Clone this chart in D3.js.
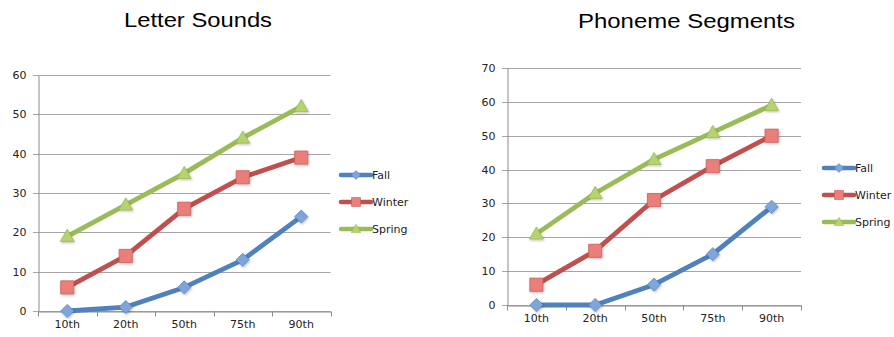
<!DOCTYPE html>
<html>
<head>
<meta charset="utf-8">
<script src="https://cdn.jsdelivr.net/npm/d3@7"></script>
<style>
  html, body { margin: 0; padding: 0; background: #fff; }
  svg { display: block; }
</style>
</head>
<body>
<svg id="chart" width="894" height="337"></svg>
<script>
// Percentile categories shared by both panels
const categories = ["10th", "20th", "50th", "75th", "90th"];
const seriesNames = ["Fall", "Winter", "Spring"];

// Letter Sounds scores by season
const letterFall   = [0, 1, 6, 13, 24];
const letterWinter = [6, 14, 26, 34, 39];
const letterSpring = [19, 27, 35, 44, 52];
const letterTicks  = [0, 10, 20, 30, 40, 50, 60];

// Phoneme Segments scores by season
const phonemeFall   = [0, 0, 6, 15, 29];
const phonemeWinter = [6, 16, 31, 41, 50];
const phonemeSpring = [21, 33, 43, 51, 59];
const phonemeTicks  = [0, 10, 20, 30, 40, 50, 60, 70];

const lineColors   = ["#4f81bd", "#c0504d", "#9bbb59"];
const markerFills  = ["#7ea6dc", "#ea7e7a", "#b6d36e"];
const markerEdges  = ["#5a89c4", "#c9605c", "#98b856"];
const markerShapes = ["diamond", "square", "triangle"];

const svg = d3.select("#chart");

// soft shadow under the markers
const defs = svg.append("defs");
const f = defs.append("filter").attr("id", "mshadow")
  .attr("x", "-50%").attr("y", "-50%").attr("width", "200%").attr("height", "200%");
f.append("feDropShadow").attr("dx", 0.8).attr("dy", 1.2)
  .attr("stdDeviation", 0.9).attr("flood-color", "#000").attr("flood-opacity", 0.25);

function markerPath(shape, s) {
  if (shape === "diamond") {
    const h = s * 0.9;
    return `M0,${-h}L${h},0L0,${h}L${-h},0Z`;
  }
  if (shape === "square") {
    const h = s * 0.9;
    return `M${-h},${-h}H${h}V${h}H${-h}Z`;
  }
  // triangle
  const h = s * 0.95;
  return `M0,${-h}L${h * 1.0},${h * 0.75}L${-h * 1.0},${h * 0.75}Z`;
}

function drawPanel(opts) {
  const g = svg.append("g");
  const x = d3.scaleBand().domain(categories).range([opts.x0, opts.x1]);
  const y = d3.scaleLinear().domain([0, opts.ticks[opts.ticks.length - 1]])
    .range([opts.y0, opts.y1]);

  // horizontal gridlines
  g.append("g").selectAll("line").data(opts.ticks).join("line")
    .attr("x1", opts.x0 - 5).attr("x2", opts.x1)
    .attr("y1", d => Math.round(y(d)) + 0.5).attr("y2", d => Math.round(y(d)) + 0.5)
    .attr("stroke", "#a6a6a6").attr("stroke-width", 1);

  // y axis
  const yAxis = d3.axisLeft(y).tickValues(opts.ticks).tickSize(0).tickPadding(12);
  const ya = g.append("g").attr("transform", `translate(${Math.round(opts.x0) + 0.5},0)`).call(yAxis);
  ya.select(".domain").attr("stroke", "#8c8c8c");
  ya.selectAll("text").attr("font-family", "DejaVu Sans, Verdana, sans-serif")
    .attr("font-size", 11).attr("fill", "#222");

  // x axis with ticks on band boundaries
  const xa = g.append("g").attr("transform", `translate(0,${Math.round(opts.y0) + 0.5})`)
    .call(d3.axisBottom(x).tickSize(0).tickPadding(9));
  xa.select(".domain").attr("stroke", "#8c8c8c");
  xa.selectAll("text").attr("font-family", "DejaVu Sans, Verdana, sans-serif")
    .attr("font-size", 11).attr("fill", "#222");
  const bounds = categories.map(c => x(c)).concat([opts.x1]);
  xa.append("g").selectAll("line").data(bounds).join("line")
    .attr("x1", d => Math.round(d) + 0.5).attr("x2", d => Math.round(d) + 0.5)
    .attr("y1", 0).attr("y2", 5).attr("stroke", "#8c8c8c");

  // title, drawn slightly wide
  g.append("text").attr("x", opts.titleX).attr("y", opts.titleY)
    .attr("text-anchor", "middle")
    .attr("font-family", "Liberation Sans, Arial, sans-serif")
    .attr("font-size", 20).attr("fill", "#000")
    .attr("textLength", opts.titleWidth).attr("lengthAdjust", "spacingAndGlyphs")
    .text(opts.title);

  const line = d3.line()
    .x((d, i) => x(categories[i]) + x.bandwidth() / 2)
    .y(d => y(d));

  opts.series.forEach((vals, si) => {
    g.append("path").datum(vals).attr("d", line)
      .attr("fill", "none").attr("stroke", lineColors[si])
      .attr("stroke-width", 4.8).attr("stroke-linejoin", "round");
  });
  opts.series.forEach((vals, si) => {
    g.append("g").selectAll("path").data(vals).join("path")
      .attr("transform", (d, i) => `translate(${x(categories[i]) + x.bandwidth() / 2},${y(d)})`)
      .attr("d", markerPath(markerShapes[si], 7.3))
      .attr("fill", markerFills[si]).attr("stroke", markerEdges[si])
      .attr("stroke-width", 0.8).attr("filter", "url(#mshadow)");
  });

  // legend
  const lg = g.append("g");
  seriesNames.forEach((name, si) => {
    const ly = opts.legendY + si * opts.legendGap;
    lg.append("line").attr("x1", opts.legendX).attr("x2", opts.legendX + 30)
      .attr("y1", ly).attr("y2", ly).attr("stroke", lineColors[si])
      .attr("stroke-width", 4.5).attr("stroke-linecap", "round");
    lg.append("path").attr("transform", `translate(${opts.legendX + 15},${ly})`)
      .attr("d", markerPath(markerShapes[si], 5))
      .attr("fill", markerFills[si]).attr("stroke", markerEdges[si]).attr("stroke-width", 0.6);
    lg.append("text").attr("x", opts.legendX + 31).attr("y", ly)
      .attr("dy", "0.35em")
      .attr("font-family", "DejaVu Sans, Verdana, sans-serif")
      .attr("font-size", 11).attr("fill", "#222").text(name);
  });
}

drawPanel({
  title: "Letter Sounds", titleX: 198, titleY: 27, titleWidth: 148,
  series: [letterFall, letterWinter, letterSpring], ticks: letterTicks,
  x0: 38, x1: 330.5, y0: 311, y1: 75,
  legendX: 341, legendY: 175, legendGap: 27
});

drawPanel({
  title: "Phoneme Segments", titleX: 686.5, titleY: 28, titleWidth: 217,
  series: [phonemeFall, phonemeWinter, phonemeSpring], ticks: phonemeTicks,
  x0: 507, x1: 801, y0: 305, y1: 68,
  legendX: 824, legendY: 168, legendGap: 27
});
</script>
</body>
</html>
